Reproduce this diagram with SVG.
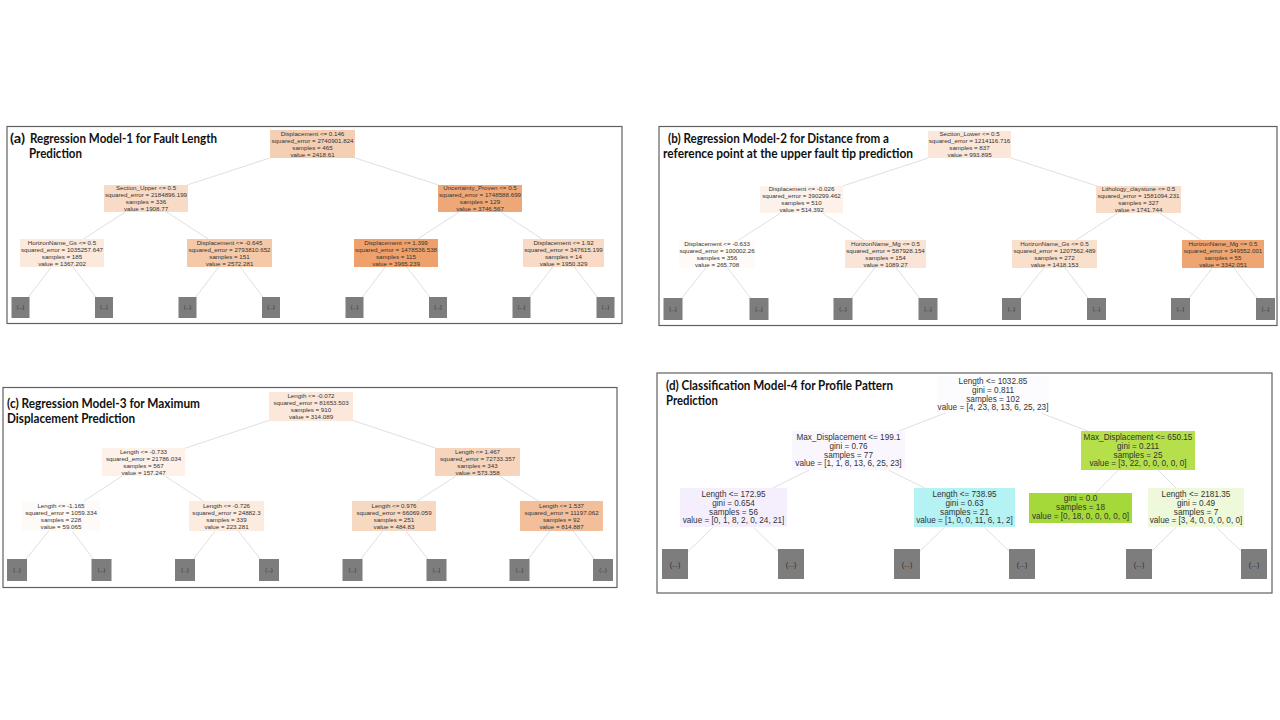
<svg xmlns="http://www.w3.org/2000/svg" width="1280" height="720" viewBox="0 0 1280 720">
<style>
.bg{fill:#ffffff}
.border{fill:none;stroke:#606060;stroke-width:1.2}
.title{font-family:Lato,"Open Sans","Liberation Sans",sans-serif;font-weight:bold;font-size:13.5px;fill:#111}
.t{font-family:"Liberation Sans",Arial,sans-serif;font-size:6.2px;fill:#333;text-anchor:middle}
.td{font-family:"Liberation Sans",Arial,sans-serif;font-size:8.2px;fill:#333;text-anchor:middle}
.leaf{fill:#7d7d7d}
.lt{font-family:"Liberation Sans",Arial,sans-serif;font-size:5px;fill:#2a2a2a;text-anchor:middle}
.ltd{font-family:"Liberation Sans",Arial,sans-serif;font-size:7px;fill:#2a2a2a;text-anchor:middle}
.e line{stroke:#e0e0e0;stroke-width:1;fill:none}
</style>
<rect class="bg" x="0" y="0" width="1280" height="720"/>

<!-- Panel frames and titles -->
<g id="panel-a-frame">
<rect class="border" x="7" y="126.5" width="615" height="197"/>
<text class="title" x="10" y="143" textLength="15" lengthAdjust="spacingAndGlyphs">(a)</text>
<text class="title" x="30" y="143" textLength="187" lengthAdjust="spacingAndGlyphs">Regression Model-1 for Fault Length</text>
<text class="title" x="29" y="157.5" textLength="53" lengthAdjust="spacingAndGlyphs">Prediction</text>
</g>
<g id="panel-b-frame">
<rect class="border" x="659" y="126.5" width="618" height="199"/>
<text class="title" x="668" y="143" textLength="221" lengthAdjust="spacingAndGlyphs">(b) Regression Model-2 for Distance from a</text>
<text class="title" x="663" y="157.5" textLength="250" lengthAdjust="spacingAndGlyphs">reference point at the upper fault tip prediction</text>
</g>
<g id="panel-c-frame">
<rect class="border" x="3" y="387.5" width="614" height="200"/>
<text class="title" x="7" y="408" textLength="193" lengthAdjust="spacingAndGlyphs">(c) Regression Model-3 for Maximum</text>
<text class="title" x="7" y="422.5" textLength="128" lengthAdjust="spacingAndGlyphs">Displacement Prediction</text>
</g>
<g id="panel-d-frame">
<rect class="border" x="657" y="373" width="615" height="220"/>
<text class="title" x="666" y="390" textLength="227" lengthAdjust="spacingAndGlyphs">(d) Classification Model-4 for Profile Pattern</text>
<text class="title" x="666" y="404.5" textLength="52" lengthAdjust="spacingAndGlyphs">Prediction</text>
</g>

<!-- Connectors -->
<g id="connectors" class="e">
<line x1="269.7" y1="158" x2="187.2" y2="185"/>
<line x1="355.3" y1="158" x2="438.5" y2="185"/>
<line x1="125.2" y1="212" x2="83.6" y2="239"/>
<line x1="166.7" y1="212" x2="208.1" y2="239"/>
<line x1="459.2" y1="212" x2="417.6" y2="239"/>
<line x1="500.7" y1="212" x2="542.1" y2="239"/>
<line x1="51.3" y1="267" x2="28.5" y2="297"/>
<line x1="72.8" y1="267" x2="96" y2="297"/>
<line x1="218.7" y1="267" x2="195.6" y2="297"/>
<line x1="240.2" y1="267" x2="263" y2="297"/>
<line x1="385.3" y1="267" x2="362.5" y2="297"/>
<line x1="406.8" y1="267" x2="429.9" y2="297"/>
<line x1="552.7" y1="267" x2="529.6" y2="297"/>
<line x1="574.3" y1="267" x2="597.4" y2="297"/>

<line x1="928.3" y1="158" x2="842.7" y2="186"/>
<line x1="1011" y1="158" x2="1097" y2="186"/>
<line x1="780.6" y1="213" x2="738.7" y2="240"/>
<line x1="822.3" y1="213" x2="863.9" y2="240"/>
<line x1="1117.7" y1="213" x2="1076.1" y2="240"/>
<line x1="1159.4" y1="213" x2="1201.3" y2="240"/>
<line x1="705.8" y1="268" x2="681.8" y2="298"/>
<line x1="727.7" y1="268" x2="750.6" y2="298"/>
<line x1="874.7" y1="268" x2="851.5" y2="298"/>
<line x1="896.3" y1="268" x2="919.5" y2="298"/>
<line x1="1043.6" y1="268" x2="1020.1" y2="298"/>
<line x1="1065.2" y1="268" x2="1088.1" y2="298"/>
<line x1="1212.2" y1="268" x2="1189" y2="298"/>
<line x1="1233.8" y1="268" x2="1257" y2="298"/>

<line x1="269" y1="420.4" x2="185" y2="448.2"/>
<line x1="353" y1="420.5" x2="435.5" y2="448"/>
<line x1="122.1" y1="476" x2="83.9" y2="501"/>
<line x1="165" y1="476" x2="203.4" y2="501"/>
<line x1="455.9" y1="476" x2="417.2" y2="501"/>
<line x1="499.3" y1="476" x2="538.2" y2="501"/>
<line x1="48.8" y1="531" x2="26" y2="559"/>
<line x1="72.3" y1="531" x2="93.2" y2="559"/>
<line x1="215" y1="531" x2="193.5" y2="559"/>
<line x1="238.3" y1="531" x2="260.3" y2="559"/>
<line x1="382.5" y1="531" x2="361" y2="559"/>
<line x1="405.8" y1="531" x2="427.8" y2="559"/>
<line x1="549.8" y1="531" x2="528.1" y2="559"/>
<line x1="573" y1="531" x2="594.5" y2="559"/>

<line x1="945.3" y1="413" x2="898.8" y2="431"/>
<line x1="1040.9" y1="413" x2="1087.5" y2="431"/>
<line x1="809.2" y1="470" x2="772.8" y2="488"/>
<line x1="888.2" y1="470" x2="924.8" y2="488"/>
<line x1="1118.5" y1="470" x2="1095.5" y2="493"/>
<line x1="1157.8" y1="470" x2="1176.2" y2="488"/>
<line x1="713.3" y1="527" x2="688" y2="551.4"/>
<line x1="753.3" y1="527" x2="778" y2="551.2"/>
<line x1="944.7" y1="527" x2="920" y2="551.2"/>
<line x1="984.3" y1="527" x2="1009" y2="551.2"/>
<line x1="1176.3" y1="527" x2="1152" y2="551"/>
<line x1="1216" y1="527" x2="1241" y2="551"/>
</g>

<!-- Panel (a) nodes -->
<g id="a-root"><rect x="270" y="130" width="85" height="28" fill="#f5cfb3"/>
<text class="t" x="312.5" y="135.9">Displacement &lt;= 0.146</text><text class="t" x="312.5" y="142.8">squared_error = 2740901.824</text><text class="t" x="312.5" y="149.7">samples = 465</text><text class="t" x="312.5" y="156.6">value = 2418.61</text></g>
<g id="a-n1"><rect x="104" y="185" width="84" height="27" fill="#f8dbc7"/>
<text class="t" x="146" y="190.4">Section_Upper &lt;= 0.5</text><text class="t" x="146" y="197.3">squared_error = 2184896.199</text><text class="t" x="146" y="204.2">samples = 336</text><text class="t" x="146" y="211.1">value = 1908.77</text></g>
<g id="a-n2"><rect x="438" y="185" width="84" height="27" fill="#eea877"/>
<text class="t" x="480" y="190.4">Uncertainty_Proven &lt;= 0.5</text><text class="t" x="480" y="197.3">squared_error = 1748588.699</text><text class="t" x="480" y="204.2">samples = 129</text><text class="t" x="480" y="211.1">value = 3746.567</text></g>
<g id="a-n3"><rect x="20" y="239" width="84" height="28" fill="#fbe9dc"/>
<text class="t" x="62" y="244.9">HorizonName_Gs &lt;= 0.5</text><text class="t" x="62" y="251.8">squared_error = 1035257.647</text><text class="t" x="62" y="258.7">samples = 185</text><text class="t" x="62" y="265.6">value = 1367.202</text></g>
<g id="a-n4"><rect x="187" y="239" width="85" height="28" fill="#f5c8a8"/>
<text class="t" x="229.5" y="244.9">Displacement &lt;= -0.645</text><text class="t" x="229.5" y="251.8">squared_error = 2793810.652</text><text class="t" x="229.5" y="258.7">samples = 151</text><text class="t" x="229.5" y="265.6">value = 2572.281</text></g>
<g id="a-n5"><rect x="354" y="239" width="84" height="28" fill="#eea16b"/>
<text class="t" x="396" y="244.9">Displacement &lt;= 1.399</text><text class="t" x="396" y="251.8">squared_error = 1478536.538</text><text class="t" x="396" y="258.7">samples = 115</text><text class="t" x="396" y="265.6">value = 3965.239</text></g>
<g id="a-n6"><rect x="523" y="239" width="81" height="28" fill="#f8dac5"/>
<text class="t" x="563.5" y="244.9">Displacement &lt;= 1.92</text><text class="t" x="563.5" y="251.8">squared_error = 347615.199</text><text class="t" x="563.5" y="258.7">samples = 14</text><text class="t" x="563.5" y="265.6">value = 1950.329</text></g>
<g id="a-leaves">
<rect class="leaf" x="11.5" y="297" width="18" height="21"/><text class="lt" x="20.5" y="309.3">(...)</text>
<rect class="leaf" x="95" y="297" width="18" height="21"/><text class="lt" x="104" y="309.3">(...)</text>
<rect class="leaf" x="178.5" y="297" width="18" height="21"/><text class="lt" x="187.5" y="309.3">(...)</text>
<rect class="leaf" x="262" y="297" width="18" height="21"/><text class="lt" x="271" y="309.3">(...)</text>
<rect class="leaf" x="345.5" y="297" width="18" height="21"/><text class="lt" x="354.5" y="309.3">(...)</text>
<rect class="leaf" x="429" y="297" width="18" height="21"/><text class="lt" x="438" y="309.3">(...)</text>
<rect class="leaf" x="512.5" y="297" width="18" height="21"/><text class="lt" x="521.5" y="309.3">(...)</text>
<rect class="leaf" x="596.5" y="297" width="18" height="21"/><text class="lt" x="605.5" y="309.3">(...)</text>
</g>

<!-- Panel (b) nodes -->
<g id="b-root"><rect x="928" y="131" width="83" height="27" fill="#fae7d9"/>
<text class="t" x="969.5" y="136.4">Section_Lower &lt;= 0.5</text><text class="t" x="969.5" y="143.3">squared_error = 1214116.716</text><text class="t" x="969.5" y="150.2">samples = 837</text><text class="t" x="969.5" y="157.1">value = 993.895</text></g>
<g id="b-n1"><rect x="760" y="186" width="83" height="27" fill="#fdf2ea"/>
<text class="t" x="801.5" y="191.4">Displacement &lt;= -0.026</text><text class="t" x="801.5" y="198.3">squared_error = 390299.462</text><text class="t" x="801.5" y="205.2">samples = 510</text><text class="t" x="801.5" y="212.1">value = 514.392</text></g>
<g id="b-n2"><rect x="1096" y="186" width="85" height="27" fill="#f8dcc7"/>
<text class="t" x="1138.5" y="191.4">Lithology_claystone &lt;= 0.5</text><text class="t" x="1138.5" y="198.3">squared_error = 1581094.231</text><text class="t" x="1138.5" y="205.2">samples = 327</text><text class="t" x="1138.5" y="212.1">value = 1741.744</text></g>
<g id="b-n3"><rect x="679" y="240" width="76" height="28" fill="#fefaf7"/>
<text class="t" x="717" y="245.9">Displacement &lt;= -0.633</text><text class="t" x="717" y="252.8">squared_error = 100002.26</text><text class="t" x="717" y="259.7">samples = 356</text><text class="t" x="717" y="266.6">value = 265.708</text></g>
<g id="b-n4"><rect x="845" y="240" width="81" height="28" fill="#fae4d5"/>
<text class="t" x="885.5" y="245.9">HorizonName_Mg &lt;= 0.5</text><text class="t" x="885.5" y="252.8">squared_error = 587928.154</text><text class="t" x="885.5" y="259.7">samples = 154</text><text class="t" x="885.5" y="266.6">value = 1089.27</text></g>
<g id="b-n5"><rect x="1012" y="240" width="85" height="28" fill="#f9e0cd"/>
<text class="t" x="1054.5" y="245.9">HorizonName_Gs &lt;= 0.5</text><text class="t" x="1054.5" y="252.8">squared_error = 1207562.489</text><text class="t" x="1054.5" y="259.7">samples = 272</text><text class="t" x="1054.5" y="266.6">value = 1418.153</text></g>
<g id="b-n6"><rect x="1182" y="240" width="82" height="28" fill="#eea571"/>
<text class="t" x="1223" y="245.9">HorizonName_Mg &lt;= 0.5</text><text class="t" x="1223" y="252.8">squared_error = 349552.001</text><text class="t" x="1223" y="259.7">samples = 55</text><text class="t" x="1223" y="266.6">value = 3342.051</text></g>
<g id="b-leaves">
<rect class="leaf" x="663.5" y="298" width="19" height="22"/><text class="lt" x="673" y="310.8">(...)</text>
<rect class="leaf" x="749.5" y="298" width="19" height="22"/><text class="lt" x="759" y="310.8">(...)</text>
<rect class="leaf" x="833.5" y="298" width="19" height="22"/><text class="lt" x="843" y="310.8">(...)</text>
<rect class="leaf" x="918.5" y="298" width="19" height="22"/><text class="lt" x="928" y="310.8">(...)</text>
<rect class="leaf" x="1002" y="298" width="19" height="22"/><text class="lt" x="1011.5" y="310.8">(...)</text>
<rect class="leaf" x="1087" y="298" width="19" height="22"/><text class="lt" x="1096.5" y="310.8">(...)</text>
<rect class="leaf" x="1171" y="298" width="19" height="22"/><text class="lt" x="1180.5" y="310.8">(...)</text>
<rect class="leaf" x="1256" y="298" width="19" height="22"/><text class="lt" x="1265.5" y="310.8">(...)</text>
</g>

<!-- Panel (c) nodes -->
<g id="c-root"><rect x="269" y="392" width="84" height="29" fill="#fbe8da"/>
<text class="t" x="311" y="398.4">Length &lt;= -0.072</text><text class="t" x="311" y="405.3">squared_error = 81653.503</text><text class="t" x="311" y="412.2">samples = 910</text><text class="t" x="311" y="419.1">value = 314.089</text></g>
<g id="c-n1"><rect x="102" y="448" width="83" height="28" fill="#fdf1e9"/>
<text class="t" x="143.5" y="453.9">Length &lt;= -0.733</text><text class="t" x="143.5" y="460.8">squared_error = 21786.034</text><text class="t" x="143.5" y="467.7">samples = 567</text><text class="t" x="143.5" y="474.6">value = 157.247</text></g>
<g id="c-n2"><rect x="435" y="448" width="85" height="28" fill="#f7d5bd"/>
<text class="t" x="477.5" y="453.9">Length &lt;= 1.467</text><text class="t" x="477.5" y="460.8">squared_error = 72733.357</text><text class="t" x="477.5" y="467.7">samples = 343</text><text class="t" x="477.5" y="474.6">value = 573.358</text></g>
<g id="c-n3"><rect x="22" y="501" width="78" height="30" fill="#fefaf7"/>
<text class="t" x="61" y="507.9">Length &lt;= -1.165</text><text class="t" x="61" y="514.8">squared_error = 1059.334</text><text class="t" x="61" y="521.7">samples = 228</text><text class="t" x="61" y="528.6">value = 59.065</text></g>
<g id="c-n4"><rect x="189" y="501" width="75" height="30" fill="#fcebdf"/>
<text class="t" x="226.5" y="507.9">Length &lt;= -0.726</text><text class="t" x="226.5" y="514.8">squared_error = 24882.3</text><text class="t" x="226.5" y="521.7">samples = 339</text><text class="t" x="226.5" y="528.6">value = 223.281</text></g>
<g id="c-n5"><rect x="352" y="501" width="84" height="30" fill="#f7d8c1"/>
<text class="t" x="394" y="507.9">Length &lt;= 0.976</text><text class="t" x="394" y="514.8">squared_error = 66069.059</text><text class="t" x="394" y="521.7">samples = 251</text><text class="t" x="394" y="528.6">value = 484.83</text></g>
<g id="c-n6"><rect x="520" y="501" width="83" height="30" fill="#f2bf9a"/>
<text class="t" x="561.5" y="507.9">Length &lt;= 1.537</text><text class="t" x="561.5" y="514.8">squared_error = 11197.062</text><text class="t" x="561.5" y="521.7">samples = 92</text><text class="t" x="561.5" y="528.6">value = 814.887</text></g>
<g id="c-leaves">
<rect class="leaf" x="7" y="559" width="20" height="22"/><text class="lt" x="17" y="571.8">(...)</text>
<rect class="leaf" x="91.5" y="559" width="20" height="22"/><text class="lt" x="101.5" y="571.8">(...)</text>
<rect class="leaf" x="175" y="559" width="20" height="22"/><text class="lt" x="185" y="571.8">(...)</text>
<rect class="leaf" x="259" y="559" width="20" height="22"/><text class="lt" x="269" y="571.8">(...)</text>
<rect class="leaf" x="342.5" y="559" width="20" height="22"/><text class="lt" x="352.5" y="571.8">(...)</text>
<rect class="leaf" x="426.5" y="559" width="20" height="22"/><text class="lt" x="436.5" y="571.8">(...)</text>
<rect class="leaf" x="509.5" y="559" width="20" height="22"/><text class="lt" x="519.5" y="571.8">(...)</text>
<rect class="leaf" x="593" y="559" width="20" height="22"/><text class="lt" x="603" y="571.8">(...)</text>
</g>

<!-- Panel (d) nodes -->
<g id="d-root"><rect x="937" y="376" width="112" height="37" fill="#fcfbfe"/>
<text class="td" x="993" y="384.3">Length &lt;= 1032.85</text><text class="td" x="993" y="393">gini = 0.811</text><text class="td" x="993" y="401.7">samples = 102</text><text class="td" x="993" y="410.4">value = [4, 23, 8, 13, 6, 25, 23]</text></g>
<g id="d-n1"><rect x="792" y="431" width="113" height="39" fill="#faf6fe"/>
<text class="td" x="848.5" y="440.3">Max_Displacement &lt;= 199.1</text><text class="td" x="848.5" y="449">gini = 0.76</text><text class="td" x="848.5" y="457.7">samples = 77</text><text class="td" x="848.5" y="466.4">value = [1, 1, 8, 13, 6, 25, 23]</text></g>
<g id="d-n2"><rect x="1081" y="431" width="114" height="39" fill="#b5e04b"/>
<text class="td" x="1138" y="440.3">Max_Displacement &lt;= 650.15</text><text class="td" x="1138" y="449">gini = 0.211</text><text class="td" x="1138" y="457.7">samples = 25</text><text class="td" x="1138" y="466.4">value = [3, 22, 0, 0, 0, 0, 0]</text></g>
<g id="d-n3"><rect x="680" y="488" width="107" height="39" fill="#f5effd"/>
<text class="td" x="733.5" y="497.3">Length &lt;= 172.95</text><text class="td" x="733.5" y="506">gini = 0.654</text><text class="td" x="733.5" y="514.7">samples = 56</text><text class="td" x="733.5" y="523.4">value = [0, 1, 8, 2, 0, 24, 21]</text></g>
<g id="d-n4"><rect x="914" y="488" width="101" height="39" fill="#b5f2f4"/>
<text class="td" x="964.5" y="497.3">Length &lt;= 738.95</text><text class="td" x="964.5" y="506">gini = 0.63</text><text class="td" x="964.5" y="514.7">samples = 21</text><text class="td" x="964.5" y="523.4">value = [1, 0, 0, 11, 6, 1, 2]</text></g>
<g id="d-n5"><rect x="1029" y="493" width="103" height="30" fill="#a5d93a"/>
<text class="td" x="1080.5" y="501.2">gini = 0.0</text><text class="td" x="1080.5" y="509.9">samples = 18</text><text class="td" x="1080.5" y="518.6">value = [0, 18, 0, 0, 0, 0, 0]</text></g>
<g id="d-n6"><rect x="1148" y="488" width="96" height="39" fill="#eef8da"/>
<text class="td" x="1196" y="497.3">Length &lt;= 2181.35</text><text class="td" x="1196" y="506">gini = 0.49</text><text class="td" x="1196" y="514.7">samples = 7</text><text class="td" x="1196" y="523.4">value = [3, 4, 0, 0, 0, 0, 0]</text></g>
<g id="d-leaves">
<rect class="leaf" x="662" y="549" width="26" height="30"/><text class="ltd" x="675" y="566.5">(...)</text>
<rect class="leaf" x="778" y="549" width="26" height="30"/><text class="ltd" x="791" y="566.5">(...)</text>
<rect class="leaf" x="894" y="549" width="26" height="30"/><text class="ltd" x="907" y="566.5">(...)</text>
<rect class="leaf" x="1009" y="549" width="26" height="30"/><text class="ltd" x="1022" y="566.5">(...)</text>
<rect class="leaf" x="1126" y="549" width="26" height="30"/><text class="ltd" x="1139" y="566.5">(...)</text>
<rect class="leaf" x="1241" y="549" width="26" height="30"/><text class="ltd" x="1254" y="566.5">(...)</text>
</g>
</svg>
